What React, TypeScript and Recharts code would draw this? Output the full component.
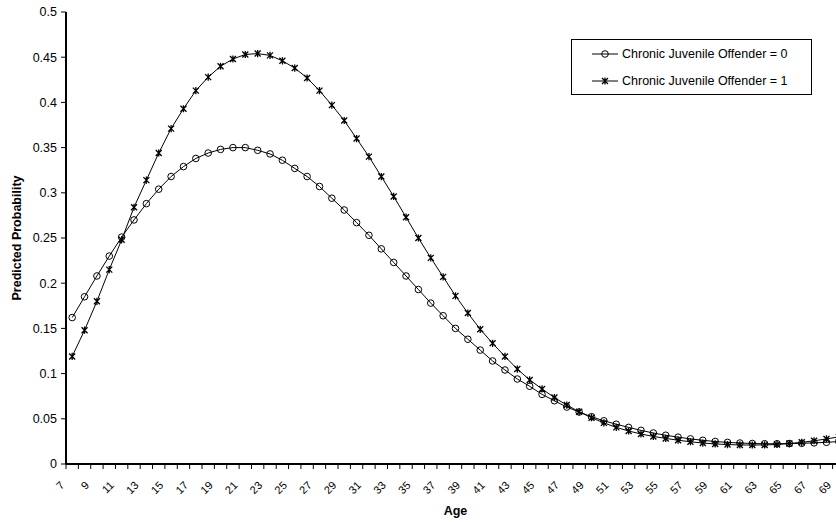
import { Legend, Line, LineChart, Text, XAxis, YAxis } from "recharts";

// Predicted probability of offending by age, split by chronic juvenile offender status.
const AGES = [
  7, 8, 9, 10, 11, 12, 13, 14, 15, 16, 17, 18, 19, 20, 21, 22, 23, 24, 25, 26,
  27, 28, 29, 30, 31, 32, 33, 34, 35, 36, 37, 38, 39, 40, 41, 42, 43, 44, 45,
  46, 47, 48, 49, 50, 51, 52, 53, 54, 55, 56, 57, 58, 59, 60, 61, 62, 63, 64,
  65, 66, 67, 68, 69,
];

const CJO_0 = [
  0.162, 0.185, 0.208, 0.23, 0.251, 0.27, 0.288, 0.304, 0.318, 0.329, 0.338,
  0.344, 0.348, 0.35, 0.35, 0.347, 0.343, 0.336, 0.327, 0.318, 0.307, 0.294,
  0.281, 0.267, 0.253, 0.238, 0.223, 0.208, 0.193, 0.178, 0.164, 0.15, 0.138,
  0.126, 0.114, 0.104, 0.094, 0.086, 0.077, 0.07, 0.063, 0.0575, 0.0523,
  0.0478, 0.044, 0.0405, 0.0372, 0.0343, 0.0318, 0.0297, 0.0278, 0.0262,
  0.0249, 0.0239, 0.0232, 0.0227, 0.0224, 0.0224, 0.0226, 0.0229, 0.0234,
  0.024, 0.0248,
];

const CJO_1 = [
  0.119, 0.148, 0.18, 0.215, 0.248, 0.284, 0.314, 0.344, 0.371, 0.393, 0.413,
  0.428, 0.44, 0.448, 0.453, 0.454, 0.452, 0.446, 0.438, 0.427, 0.413, 0.397,
  0.38, 0.36, 0.34, 0.318, 0.296, 0.273, 0.25, 0.228, 0.207, 0.186, 0.167,
  0.149, 0.1335, 0.119, 0.105, 0.093, 0.083, 0.0735, 0.0652, 0.0578, 0.0512,
  0.0455, 0.0405, 0.0365, 0.0332, 0.0305, 0.0283, 0.0263, 0.0246, 0.0232,
  0.0222, 0.0215, 0.0211, 0.021, 0.0211, 0.0216, 0.0226, 0.024, 0.0257,
  0.0277, 0.03,
];

const Y_TICKS = [0, 0.05, 0.1, 0.15, 0.2, 0.25, 0.3, 0.35, 0.4, 0.45, 0.5];

const SERIES = [
  { key: "cjo0", name: "Chronic Juvenile Offender = 0", marker: "circle" },
  { key: "cjo1", name: "Chronic Juvenile Offender = 1", marker: "star" },
];

const data = AGES.map((age, i) => ({ age, cjo0: CJO_0[i], cjo1: CJO_1[i] }));

const FONT = "'Liberation Sans', Arial, sans-serif";
const CHART_W = 860;
const CHART_H = 522;
const Y_AXIS_W = 66;
const RIGHT = 15;
const PLOT_W = CHART_W - Y_AXIS_W - RIGHT;
const STEP = PLOT_W / AGES.length;

function circleMark(cx: number, cy: number, key?: string) {
  return <circle key={key} cx={cx} cy={cy} r={3.3} fill="none" stroke="#000" strokeWidth={1} />;
}

function starMark(cx: number, cy: number, key?: string) {
  const s = 3;
  const d = `M${cx - s},${cy - s}L${cx + s},${cy + s}M${cx + s},${cy - s}L${cx - s},${cy + s}M${cx},${cy - s - 0.6}L${cx},${cy + s + 0.6}`;
  return <path key={key} d={d} fill="none" stroke="#000" strokeWidth={1.3} />;
}

const CircleDot = (p: any) => circleMark(p.cx, p.cy, `c${p.index}`);
const StarDot = (p: any) => starMark(p.cx, p.cy, `s${p.index}`);

// Excel-style category axis: tick marks sit between categories, labels on every other age.
function AgeTick(props: any) {
  const { x, y, payload } = props;
  const bx = x - STEP / 2;
  return (
    <g>
      <line x1={bx} y1={y} x2={bx} y2={y + 5} stroke="#000" strokeWidth={1} />
      {payload.value % 2 === 1 && (
        <Text
          x={x - 7}
          y={y + 22}
          angle={-45}
          textAnchor="end"
          verticalAnchor="end"
          fontSize={11}
          fontFamily={FONT}
          fill="#000"
        >
          {String(payload.value)}
        </Text>
      )}
    </g>
  );
}

function LegendBox(props: any) {
  const items = props.payload ?? [];
  return (
    <div
      style={{
        boxSizing: "border-box",
        width: 241,
        height: 56,
        border: "1px solid #000",
        background: "#fff",
        paddingLeft: 20,
        fontFamily: FONT,
        fontSize: 12.5,
        color: "#000",
      }}
    >
      {items.map((item: any) => {
        const s = SERIES.find((x) => x.key === item.dataKey);
        return (
          <div key={item.value} style={{ display: "flex", alignItems: "center", height: 27.5 }}>
            <svg width={26} height={12} style={{ marginRight: 4 }}>
              <line x1={0} y1={6} x2={26} y2={6} stroke="#000" strokeWidth={1} />
              {s?.marker === "star" ? starMark(13, 6) : circleMark(13, 6)}
            </svg>
            <span>{item.value}</span>
          </div>
        );
      })}
    </div>
  );
}

export default function App() {
  return (
    <div
      style={{
        position: "absolute",
        left: 0,
        top: 0,
        width: 836,
        height: 522,
        overflow: "hidden",
        background: "#fff",
      }}
    >
      <LineChart
        width={CHART_W}
        height={CHART_H}
        data={data}
        margin={{ top: 12, right: RIGHT, bottom: 0, left: 0 }}
      >
        <XAxis
          dataKey="age"
          interval={0}
          height={58}
          padding={{ left: STEP / 2, right: STEP / 2 }}
          axisLine={{ stroke: "#000", strokeWidth: 2 }}
          tickLine={false}
          tickSize={0}
          tickMargin={0}
          tick={AgeTick}
          label={{
            value: "Age",
            position: "insideBottom",
            offset: 7,
            style: { fontWeight: "bold", fontSize: 12.5, fill: "#000", fontFamily: FONT },
          }}
        />
        <XAxis
          xAxisId="top"
          orientation="top"
          dataKey="age"
          height={0}
          padding={{ left: STEP / 2, right: STEP / 2 }}
          tick={false}
          tickLine={false}
          axisLine={{ stroke: "#000", strokeWidth: 2 }}
        />
        <YAxis
          domain={[0, 0.5]}
          ticks={Y_TICKS}
          interval={0}
          width={Y_AXIS_W}
          axisLine={{ stroke: "#000", strokeWidth: 2 }}
          tickLine={{ stroke: "#000" }}
          tickSize={5}
          tickMargin={4}
          tick={{ fill: "#000", fontSize: 12.5, fontFamily: FONT }}
          tickFormatter={(v: number) => String(Number(v.toFixed(2)))}
          label={{
            value: "Predicted Probability",
            angle: -90,
            position: "insideLeft",
            offset: 17,
            style: { textAnchor: "middle", fontWeight: "bold", fontSize: 12.5, fill: "#000", fontFamily: FONT },
          }}
        />
        <Legend
          layout="horizontal"
          verticalAlign="middle"
          align="center"
          content={<LegendBox />}
          wrapperStyle={{ position: "absolute", top: 39, left: 571, width: 241, right: "auto", bottom: "auto" }}
        />
        {SERIES.map((s) => (
          <Line
            key={s.key}
            type="linear"
            dataKey={s.key}
            name={s.name}
            stroke="#000"
            strokeWidth={1}
            dot={s.marker === "star" ? StarDot : CircleDot}
            activeDot={false}
            isAnimationActive={false}
          />
        ))}
      </LineChart>
    </div>
  );
}
